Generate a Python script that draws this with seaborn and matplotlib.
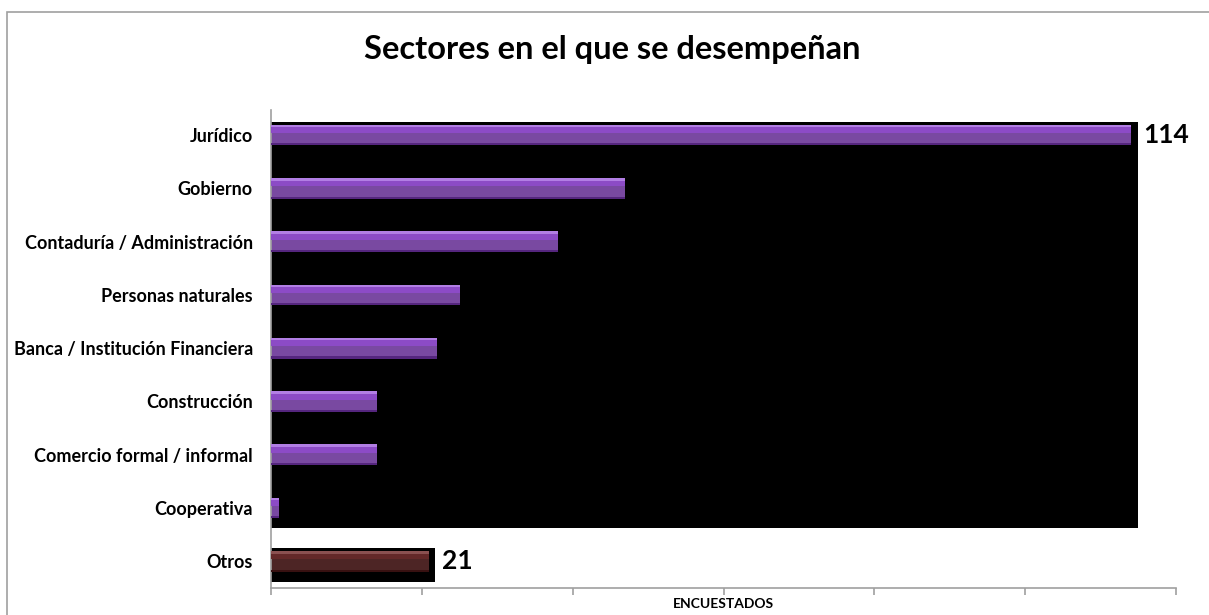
import pandas as pd
import matplotlib
matplotlib.use("Agg")
import matplotlib.pyplot as plt
import seaborn as sns
from matplotlib.patches import Rectangle

# data
sectores = ["Jurídico", "Gobierno", "Contaduría / Administración", "Personas naturales",
            "Banca / Institución Financiera", "Construcción", "Comercio formal / informal",
            "Cooperativa", "Otros"]
encuestados = [114, 47, 38, 25, 22, 14, 14, 1, 21]
etiquetas = {"Jurídico": "114", "Otros": "21"}
x_ticks = [0, 20, 40, 60, 80, 100, 120]

df = pd.DataFrame({"sector": sectores, "n": encuestados})
df["grupo"] = ["otros" if s == "Otros" else "sector" for s in df["sector"]]

sns.set_theme(style="white")
plt.rcParams["font.family"] = ["Lato", "DejaVu Sans"]
plt.rcParams["text.color"] = "black"
plt.rcParams["axes.labelcolor"] = "black"
plt.rcParams["ytick.color"] = "black"

fig = plt.figure(figsize=(12.09, 6.15), dpi=100)
ax = fig.add_axes([271 / 1209, 27 / 615, 905 / 1209, 478 / 615])

# black "shadow" block behind the main bars and behind Otros
pos = list(range(len(sectores)))
main = df[df["grupo"] == "sector"]
ax.add_patch(Rectangle((0, -0.245), main["n"].max() + 1, (len(main) - 1) + 0.625,
                       facecolor="black", edgecolor="none", zorder=1))
otros = df[df["grupo"] == "otros"]
ax.barh([pos[i] + 0.07 for i in otros.index], otros["n"] + 0.7, height=0.63,
        color="black", edgecolor="none", linewidth=0, zorder=1)

palette = {"sector": "#7A3AB0", "otros": "#541E1E"}
sns.barplot(data=df, y="sector", x="n", hue="grupo", palette=palette, orient="h",
            width=0.39, dodge=False, legend=False, ax=ax, zorder=2,
            edgecolor="none", linewidth=0)

# bevel: top highlight, brighter upper band, dark lower edge
hi = {"sector": "#B27EE4", "otros": "#8A5050"}
mid = {"sector": "#8C4BC6", "otros": "#632828"}
lo = {"sector": "#55267E", "otros": "#381111"}
for i, row in df.iterrows():
    ax.barh(i - 0.095, row["n"], height=0.12, color=mid[row["grupo"]],
            edgecolor="none", linewidth=0, zorder=3)
    ax.barh(i - 0.17, row["n"], height=0.05, color=hi[row["grupo"]],
            edgecolor="none", linewidth=0, zorder=3)
    ax.barh(i + 0.175, row["n"], height=0.04, color=lo[row["grupo"]],
            edgecolor="none", linewidth=0, zorder=3)

for i, row in df.iterrows():
    if row["sector"] in etiquetas:
        ax.text(row["n"] + 1.7, i, etiquetas[row["sector"]], ha="left", va="center",
                fontsize=19, fontweight="bold", color="black", zorder=4)

ax.set_xlim(0, 120)
ax.set_ylim(8.5, -0.47)
ax.set_xticks(x_ticks)
ax.set_xticklabels([])
ax.tick_params(axis="x", which="both", bottom=True, length=5, width=1.2, color="#A0A0A0", direction="out")
ax.tick_params(axis="y", left=False, pad=7, labelsize=13)
for lab in ax.get_yticklabels():
    lab.set_fontweight("bold")
ax.set_ylabel("")
ax.set_xlabel("ENCUESTADOS", fontsize=10, fontweight="bold", va="center")
ax.xaxis.set_label_coords(0.5, -16 / 478)
for s in ["top", "right"]:
    ax.spines[s].set_visible(False)
for s in ["left", "bottom"]:
    ax.spines[s].set_color("#A0A0A0")
    ax.spines[s].set_linewidth(1.2)
ax.set_facecolor("white")

fig.text(612 / 1209, 1 - 50 / 615, "Sectores en el que se desempeñan", ha="center", va="center",
         fontsize=23.5, fontweight="bold", color="black")

# chart frame
fig.patches.append(Rectangle((7 / 1209, -0.05), 1.1, 1 - 12 / 615 + 0.05, transform=fig.transFigure,
                             fill=False, edgecolor="#A0A0A0", linewidth=1.2))

fig.savefig("out.png", dpi=100)
